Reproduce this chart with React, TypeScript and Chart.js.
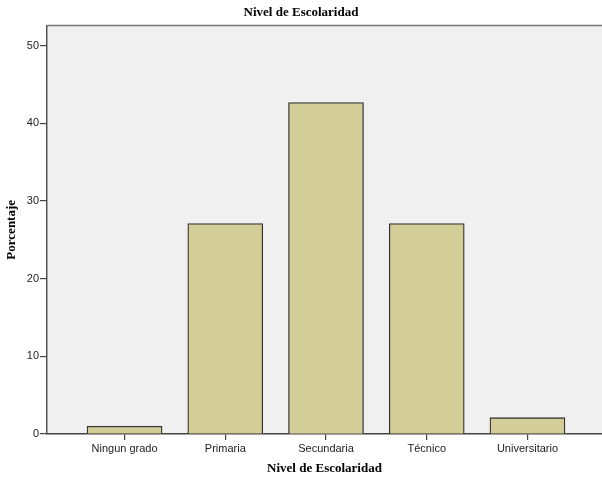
import React, { useEffect, useRef } from "react";
import { Chart, registerables } from "chart.js";

Chart.register(...registerables);

const categories = ["Ningun grado", "Primaria", "Secundaria", "Técnico", "Universitario"];
const percentages = [1.0, 27.1, 42.7, 27.1, 2.1];
const yTicks = [0, 10, 20, 30, 40, 50];
const chartTitle = "Nivel de Escolaridad";
const xTitle = "Nivel de Escolaridad";
const yTitle = "Porcentaje";

const plotBg = {
  id: "plotBg",
  beforeDraw(chart: any) {
    const { ctx, chartArea } = chart;
    ctx.save();
    ctx.fillStyle = "#f0f0f0";
    ctx.fillRect(chartArea.left, chartArea.top, chartArea.right - chartArea.left, chartArea.bottom - chartArea.top);
    ctx.restore();
  },
  afterDraw(chart: any) {
    const { ctx, chartArea } = chart;
    ctx.save();
    ctx.strokeStyle = "#777777";
    ctx.lineWidth = 1.5;
    ctx.beginPath();
    ctx.moveTo(chartArea.left, chartArea.top);
    ctx.lineTo(chartArea.right, chartArea.top);
    ctx.stroke();
    ctx.restore();
  },
};

export default function App() {
  const ref = useRef<HTMLCanvasElement>(null);
  useEffect(() => {
    const data = categories.map((_, i) => ({ x: i, y: percentages[i] }));
    const chart = new Chart(ref.current!, {
      type: "bar",
      data: {
        datasets: [
          {
            data: data as any,
            backgroundColor: "#d3ce97",
            borderColor: "#333333",
            borderWidth: 1.3,
            barThickness: 75,
          },
        ],
      },
      options: {
        animation: false,
        responsive: false,
        maintainAspectRatio: false,
        layout: { padding: { left: 0, right: 0, top: 0, bottom: 0 } },
        plugins: {
          legend: { display: false },
          tooltip: { enabled: false },
          title: {
            display: true,
            text: chartTitle,
            color: "#000",
            font: { family: "'Liberation Serif', 'Times New Roman', serif", size: 13, weight: "bold" },
            padding: { top: 5, bottom: 5 },
          },
        },
        scales: {
          x: {
            type: "linear",
            offset: false,
            min: -0.77,
            max: 4.74,
            afterBuildTicks(scale: any) {
              scale.ticks = categories.map((_, i) => ({ value: i }));
            },
            afterFit(scale: any) {
              scale.height = 45;
            },
            ticks: {
              callback: (v: any) => categories[v as number] ?? "",
              color: "#222",
              font: { family: "'Liberation Sans', Arial, sans-serif", size: 11 },
              padding: 2,
              maxRotation: 0,
              autoSkip: false,
            },
            grid: { display: true, offset: false, drawOnChartArea: false, drawTicks: true, tickLength: 6, tickColor: "#444", lineWidth: 1.2 },
            border: { display: true, color: "#444", width: 1.5 },
            title: {
              display: true,
              text: xTitle,
              color: "#000",
              font: { family: "'Liberation Serif', 'Times New Roman', serif", size: 13, weight: "bold" },
              padding: { top: 0, bottom: 3 },
            },
          },
          y: {
            min: 0,
            max: 52.6,
            afterBuildTicks(scale: any) {
              scale.ticks = yTicks.map((v) => ({ value: v }));
            },
            afterFit(scale: any) {
              scale.width = 47;
            },
            ticks: {
              color: "#222",
              font: { family: "'Liberation Sans', Arial, sans-serif", size: 11 },
              padding: 1,
            },
            grid: { display: true, drawOnChartArea: false, drawTicks: true, tickLength: 7, tickColor: "#444", lineWidth: 1.2 },
            border: { display: true, color: "#555", width: 1.5 },
            title: {
              display: true,
              text: yTitle,
              color: "#000",
              font: { family: "'Liberation Serif', 'Times New Roman', serif", size: 13, weight: "bold" },
              padding: { top: 4, bottom: 0 },
            },
          },
        },
      },
      plugins: [plotBg],
    });
    return () => chart.destroy();
  }, []);
  return (
    <div style={{ position: "fixed", left: 0, top: 0, width: 602, height: 479, background: "#fff" }}>
      <canvas ref={ref} width={602} height={479} style={{ display: "block" }} />
    </div>
  );
}
